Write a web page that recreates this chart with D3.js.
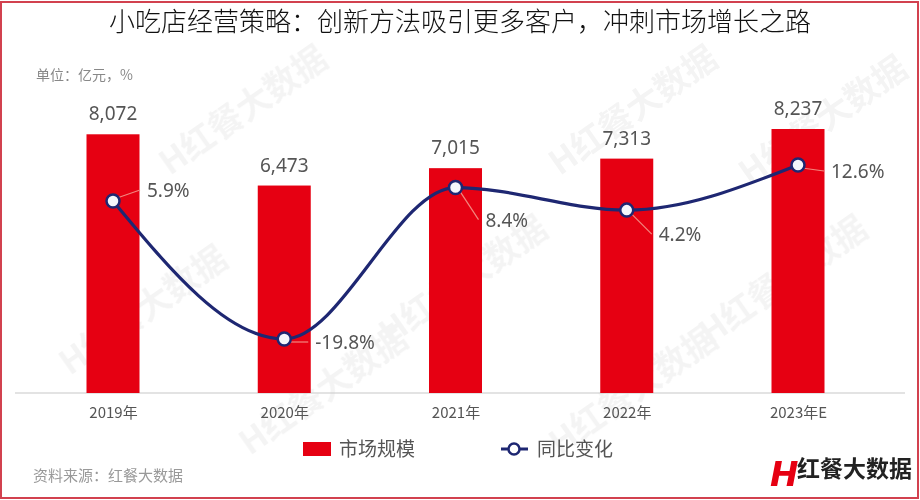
<!DOCTYPE html>
<html><head><meta charset="utf-8">
<script src="https://cdn.jsdelivr.net/npm/d3@7/dist/d3.min.js"></script>
<style>
html,body{margin:0;padding:0;background:#fff;}
svg{display:block;font-family:"Noto Sans","Noto Sans CJK SC",sans-serif;}
</style></head>
<body>
<svg id="c" width="920" height="500"></svg>
<script>
const categories = ["2019年","2020年","2021年","2022年","2023年E"];
const marketSize = [8072, 6473, 7015, 7313, 8237];
const yoyChange = [5.9, -19.8, 8.4, 4.2, 12.6];
const titleText = "小吃店经营策略：创新方法吸引更多客户，冲刺市场增长之路";
const unitText = "单位：亿元，%";
const legendNames = ["市场规模","同比变化"];
const sourceText = "资料来源：红餐大数据";
const brandText = "红餐大数据";

const svg = d3.select("#c");
const W = 920, H = 500;
const cjk = '"Noto Sans CJK SC",sans-serif';

// faint watermarks
const wm = svg.append("g").attr("opacity", 0.045);
const wmPos = [[250,120],[640,120],[830,130],[150,320],[470,290],[790,290],[330,400],[640,400]];
wmPos.forEach(p => {
  wm.append("text").attr("transform", `translate(${p[0]},${p[1]}) rotate(-35)`)
    .attr("text-anchor","middle").attr("font-family",cjk).attr("font-weight",700)
    .attr("font-size",34).attr("fill","#000").text("H" + brandText);
});

// frame
svg.append("rect").attr("x",1).attr("y",2).attr("width",W-3).attr("height",H-4)
  .attr("fill","none").attr("stroke","#d2414f").attr("stroke-width",2);

// title
svg.append("text").attr("x",460).attr("y",31).attr("text-anchor","middle")
  .attr("font-family",cjk).attr("font-weight",300).attr("font-size",26)
  .attr("fill","#111").text(titleText);

// unit
svg.append("text").attr("x",36).attr("y",80).attr("font-family",cjk)
  .attr("font-size",14).attr("fill","#888").text(unitText);

const x = d3.scalePoint().domain(categories).range([113, 798]);
const y = d3.scaleLinear().domain([0, 8237]).range([393, 129]);
const y2 = d3.scaleLinear().domain([-19.8, 12.6]).range([339, 165]);
const bw = 53;

// axis
const xAxis = d3.axisBottom(x).tickSize(0).tickPadding(14);
const ax = svg.append("g").attr("transform","translate(0,393)").call(xAxis);
ax.select(".domain").attr("d","M15,0H905").attr("stroke","#c8c8c8").attr("stroke-width",1.2);
ax.selectAll("text").attr("font-family",cjk).attr("font-size",15).attr("fill","#555");

// bars
svg.append("g").selectAll("rect").data(marketSize).join("rect")
  .attr("x",(d,i)=>x(categories[i]) - bw/2).attr("y",d=>y(d))
  .attr("width",bw).attr("height",d=>393 - y(d)).attr("fill","#e60012");

svg.append("g").selectAll("text").data(marketSize).join("text")
  .attr("x",(d,i)=>x(categories[i])).attr("y",d=>y(d)-14)
  .attr("text-anchor","middle").attr("font-size",19).attr("fill","#555")
  .text(d=>d3.format(",")(d));

// line
const line = d3.line().x((d,i)=>x(categories[i])).y(d=>y2(d)).curve(d3.curveMonotoneX);
svg.append("path").datum(yoyChange).attr("d",line).attr("fill","none")
  .attr("stroke","#1e2772").attr("stroke-width",3.2);

// leader lines and labels
const labelOff = [[34,-11],[31,3],[30,32],[32,24],[33,6]];
const lg = svg.append("g");
yoyChange.forEach((v,i)=>{
  const px = x(categories[i]), py = y2(v);
  const o = labelOff[i];
  lg.append("line").attr("x1",px+4).attr("y1",py + Math.sign(o[1])*3)
    .attr("x2",px+o[0]-7).attr("y2",py+o[1]).attr("stroke","#f2877f").attr("stroke-width",1.2);
  lg.append("text").attr("x",px+o[0]).attr("y",py+o[1]+7)
    .attr("font-size",19).attr("fill","#555").text(v.toFixed(1)+"%");
});

svg.append("g").selectAll("circle").data(yoyChange).join("circle")
  .attr("cx",(d,i)=>x(categories[i])).attr("cy",d=>y2(d)).attr("r",6.5)
  .attr("fill","#f4f6fb").attr("stroke","#1e2772").attr("stroke-width",2.5);

// legend
const leg = svg.append("g");
leg.append("rect").attr("x",303).attr("y",442).attr("width",28).attr("height",14).attr("fill","#e60012");
leg.append("text").attr("x",339).attr("y",456).attr("font-family",cjk).attr("font-size",19)
  .attr("fill","#555").text(legendNames[0]);
leg.append("line").attr("x1",501).attr("x2",528).attr("y1",449).attr("y2",449)
  .attr("stroke","#1e2772").attr("stroke-width",3);
leg.append("circle").attr("cx",514).attr("cy",449).attr("r",5.5).attr("fill","#fff")
  .attr("stroke","#1e2772").attr("stroke-width",2.5);
leg.append("text").attr("x",537).attr("y",456).attr("font-family",cjk).attr("font-size",19)
  .attr("fill","#555").text(legendNames[1]);

// source
svg.append("text").attr("x",33).attr("y",481).attr("font-family",cjk).attr("font-size",15)
  .attr("fill","#999").text(sourceText);

// brand
svg.append("text").attr("x",770).attr("y",486).attr("font-family",'"DejaVu Sans",sans-serif')
  .attr("font-weight",700).attr("font-style","italic").attr("font-size",34).attr("fill","#e60012").text("H");
svg.append("text").attr("x",797).attr("y",477).attr("font-family",cjk).attr("font-weight",700)
  .attr("font-size",23).attr("fill","#222").text(brandText);
</script>
</body></html>
